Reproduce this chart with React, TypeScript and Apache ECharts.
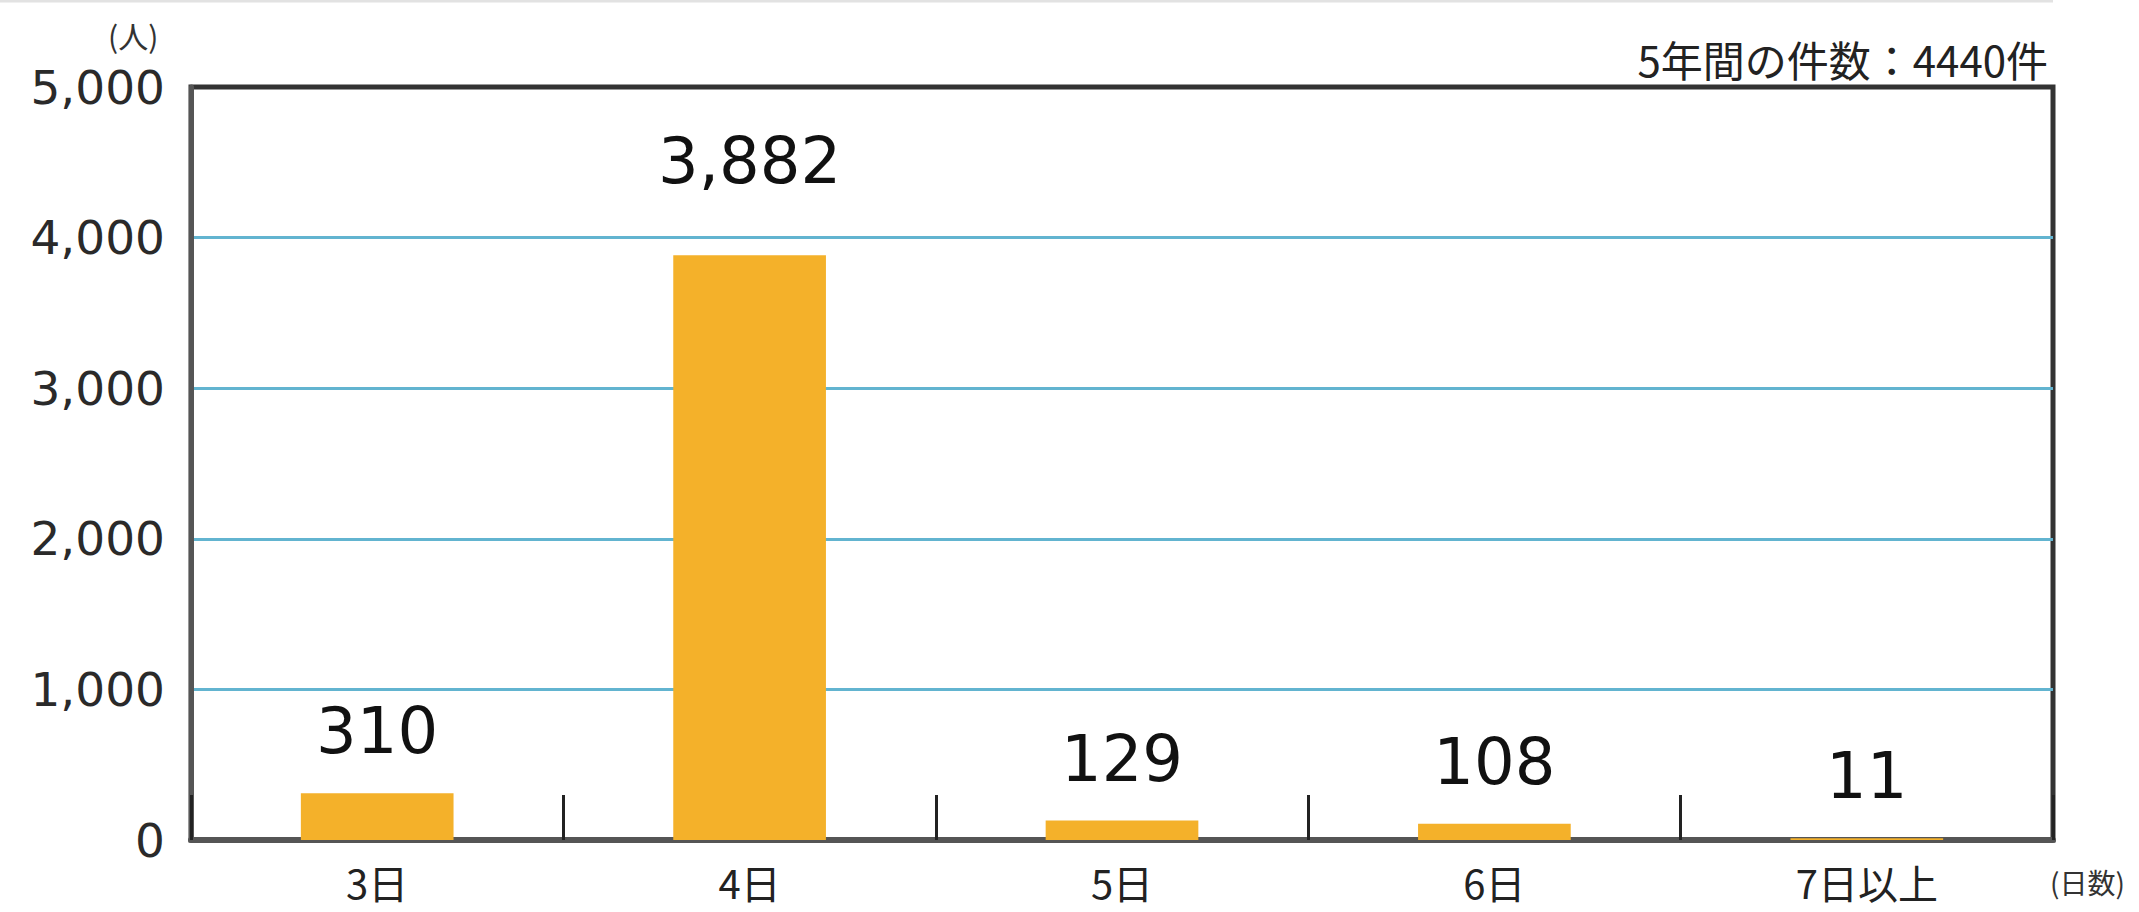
import React, { useEffect, useRef } from "react";
import * as echarts from "echarts";

const categories = ["3日", "4日", "5日", "6日", "7日以上"];
const values = [310, 3882, 129, 108, 11];
const yMin = 0;
const yMax = 5000;
const yStep = 1000;
const titleText = "5年間の件数：4440件";
const yUnit = "(人)";
const xUnit = "(日数)";

export default function App() {
  const ref = useRef<HTMLDivElement>(null);
  useEffect(() => {
    document.body.style.margin = "0";
    const chart = echarts.init(ref.current!, null, { renderer: "svg" });
    const num = "DejaVu Sans";
    const jp = "Noto Sans CJK JP";
    const maxIdx = values.indexOf(Math.max(...values));
    chart.setOption({
      animation: false,
      backgroundColor: "#ffffff",
      title: {
        text: titleText,
        right: 86,
        top: 32,
        textStyle: { fontFamily: jp, fontSize: 42, fontWeight: "normal", color: "#222" },
      },
      grid: {
        left: 191,
        right: 86,
        top: 87,
        bottom: 72,
        show: true,
        borderColor: "#333",
        borderWidth: 5,
        backgroundColor: "transparent",
      },
      xAxis: {
        type: "category",
        data: categories,
        axisLine: { lineStyle: { color: "#555", width: 6 } },
        axisTick: { show: true, inside: true, length: 45, lineStyle: { color: "#222", width: 3 } },
        axisLabel: { fontFamily: jp, fontSize: 40, color: "#222", margin: 22, lineHeight: 40 },
      },
      yAxis: {
        type: "value",
        min: yMin,
        max: yMax,
        interval: yStep,
        axisLine: { show: true, lineStyle: { color: "#555", width: 5 } },
        axisTick: { show: false },
        axisLabel: {
          fontFamily: num,
          fontSize: 47,
          color: "#2a2a2a",
          margin: 26,
          formatter: (v: number) => v.toLocaleString("en-US"),
        },
        splitLine: {
          show: true,
          showMinLine: false,
          showMaxLine: false,
          lineStyle: { color: "#62b4d0", width: 3 },
        },
      },
      graphic: [
        { type: "line", shape: { x1: 0, y1: 1, x2: 2053, y2: 1 }, style: { stroke: "#e2e2e2", lineWidth: 3 } },
        { type: "text", left: 108, top: 20, style: { text: yUnit, fontFamily: jp, fontSize: 30, fill: "#333" } },
        { type: "text", left: 2050, top: 868, style: { text: xUnit, fontFamily: jp, fontSize: 28, fill: "#333" } },
      ],
      series: [
        {
          type: "bar",
          data: values.map((v, i) => (i === maxIdx ? { value: v, label: { distance: 62 } } : { value: v })),
          barWidth: "41%",
          itemStyle: { color: "#f4b12a" },
          label: {
            show: true,
            position: "top",
            distance: 30,
            fontFamily: num,
            fontSize: 64,
            color: "#111",
            formatter: (p: any) => Number(p.value).toLocaleString("en-US"),
          },
        },
      ],
    });
    return () => chart.dispose();
  }, []);
  return <div ref={ref} style={{ position: "fixed", left: 0, top: 0, width: 2139, height: 912 }} />;
}
